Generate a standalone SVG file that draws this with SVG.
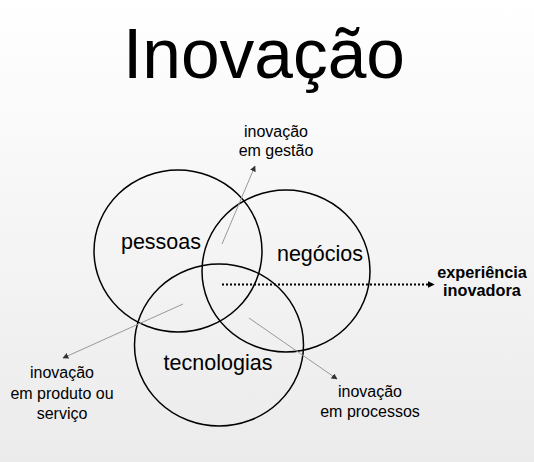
<svg xmlns="http://www.w3.org/2000/svg" width="534" height="462" viewBox="0 0 534 462">
<defs>
<linearGradient id="bg" x1="0" y1="0" x2="0" y2="1">
<stop offset="0" stop-color="#ffffff"/>
<stop offset="1" stop-color="#ebebeb"/>
</linearGradient>
<marker id="ah" viewBox="0 0 10 10" refX="9" refY="5" markerWidth="6" markerHeight="6" orient="auto" markerUnits="userSpaceOnUse">
<path d="M0,0 L10,5 L0,10 z" fill="#333"/>
</marker>
<marker id="ahd" viewBox="0 0 10 10" refX="9" refY="5" markerWidth="7" markerHeight="7" orient="auto" markerUnits="userSpaceOnUse">
<path d="M0,0 L10,5 L0,10 z" fill="#000"/>
</marker>
</defs>
<style>
text{font-family:"Liberation Sans",Arial,sans-serif;fill:#000;text-anchor:middle}
.title{font-size:69.5px}
.big{font-size:21.5px}
.small{font-size:16px}
.bold{font-size:16.3px;font-weight:bold}
.circ{fill:none;stroke:#000;stroke-width:1.5}
.thin{stroke:#999;stroke-width:1;fill:none}
.dot{stroke:#000;stroke-width:2;stroke-dasharray:2 2;fill:none}
</style>
<rect width="534" height="462" fill="url(#bg)"/>
<g id="title"><text class="title" x="264" y="77.5">Inovação</text></g>
<g id="pessoas"><ellipse class="circ" cx="178" cy="251" rx="84" ry="81"/><text class="big" x="161" y="249">pessoas</text></g>
<g id="negocios"><ellipse class="circ" cx="286" cy="271" rx="84" ry="81"/><text class="big" x="320" y="261">negócios</text></g>
<g id="tecnologias"><ellipse class="circ" cx="219" cy="345" rx="84.5" ry="81"/><text class="big" x="218" y="370">tecnologias</text></g>
<g id="connectors">
<line class="thin" x1="222" y1="244" x2="255" y2="166" marker-end="url(#ah)"/>
<line class="thin" x1="183" y1="304" x2="63" y2="358" marker-end="url(#ah)"/>
<line class="thin" x1="249" y1="318" x2="337" y2="379" marker-end="url(#ah)"/>
<line class="dot" x1="222" y1="284.5" x2="434" y2="284.5" marker-end="url(#ahd)"/>
</g>
<g id="gestao"><text class="small" x="276" y="137">inovação</text><text class="small" x="276" y="156">em gestão</text></g>
<g id="produto"><text class="small" x="62" y="378">inovação</text><text class="small" x="62" y="398.5">em produto ou</text><text class="small" x="62" y="419">serviço</text></g>
<g id="processos"><text class="small" x="370" y="397">inovação</text><text class="small" x="370" y="417">em processos</text></g>
<g id="experiencia"><text class="bold" x="482" y="277.5">experiência</text><text class="bold" x="482" y="296">inovadora</text></g>
</svg>
